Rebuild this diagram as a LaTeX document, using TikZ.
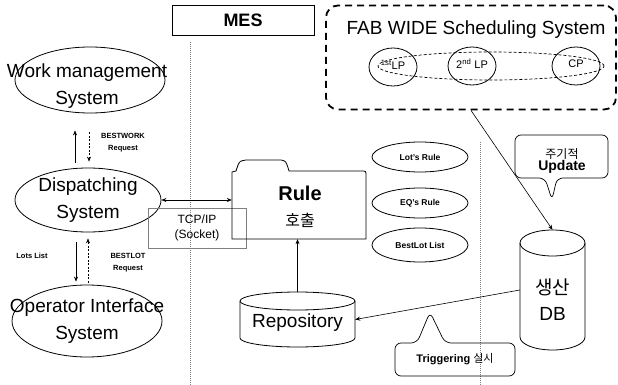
\documentclass[tikz,border=0pt]{standalone}
\usepackage{fontspec}
\setmainfont{Liberation Sans}
\newfontfamily\kr{Noto Sans CJK KR}
\usetikzlibrary{shapes.geometric,arrows.meta,calc}
\begin{document}
\begin{tikzpicture}[x=1pt,y=-1pt,
  ell/.style={draw, ellipse, inner sep=0pt, line width=0.8pt, align=center},
  big/.style={font=\fontsize{19}{27}\selectfont, align=center, inner sep=0pt},
  arr/.style={-{Stealth[length=5pt,width=4pt]}, line width=0.6pt},
  darr/.style={arr, dash pattern=on 2pt off 1.5pt},
  lbl/.style={font=\bfseries\fontsize{7.5}{12}\selectfont, align=center},
  rl/.style={ell, minimum width=96, minimum height=30, font=\bfseries\fontsize{8.5}{10}\selectfont},
  lp/.style={ell, minimum width=48, minimum height=38},
  lpt/.style={font=\fontsize{11}{13}\selectfont, inner sep=0pt},
  sepline/.style={gray, dash pattern=on 1pt off 1pt, line width=0.7pt},
  body/.style={line width=0.8pt}
]
\useasboundingbox (0,0) rectangle (618,385);

% separators
\draw[sepline] (190,42) -- (190,385);
\draw[sepline] (480,142) -- (480,385);

% MES
\node[draw, line width=0.7pt, minimum width=142, minimum height=30, font=\bfseries\fontsize{18}{20}\selectfont] (mes) at (243,20) {MES};

% left ellipses
\node[ell, minimum width=150, minimum height=66] (work) at (90,80) {};
\node[big] (workt) at (87,86) {Work management\\System};
\node[ell, minimum width=146, minimum height=64] (disp) at (88,200) {};
\node[big] (dispt) at (88,200) {Dispatching\\System};
\node[ell, minimum width=150, minimum height=72] (oper) at (87,321) {};
\node[big] (opert) at (87,321) {Operator Interface\\System};

% arrows between left ellipses
\draw[arr] ([xshift=-13pt,yshift=5pt]disp.north) -- ([xshift=-15pt,yshift=-17pt]work.south);
\draw[darr] ([xshift=-1pt,yshift=-19pt]work.south) -- ([xshift=1pt,yshift=6pt]disp.north);
\node[lbl] (bw) at (123,143) {BESTWORK\\Request};

\draw[arr] ([xshift=-12pt,yshift=-10pt]disp.south) -- ([xshift=-11pt,yshift=3pt]oper.north);
\draw[darr] ([xshift=1pt,yshift=2pt]oper.north) -- ([yshift=-6pt]disp.south);
\node[lbl] (ll) at (32,256) {Lots List};
\node[lbl] (bl) at (128,263) {BESTLOT\\Request};

% TCP/IP box
\node[draw=gray, line width=0.5pt, minimum width=98, minimum height=40, align=center,
      font=\fontsize{12}{15}\selectfont] (tcp) at (197,228) {TCP/IP\\(Socket)};

% Rule folder
\draw[body] (232,239) -- (232,172) -- (236,171) -- (238,165) .. controls (240,161) .. (246,160)
  -- (281,160) .. controls (286,161) .. (289,171) -- (361,171) .. controls (366,171) .. (366,176)
  -- (366,239) -- cycle;
\node[minimum width=134, minimum height=67, inner sep=0pt] (rule) at (299,205.5) {};
\node[font=\bfseries\fontsize{20}{24}\selectfont, inner sep=0pt] (rulet) at (300,193) {Rule};
\node[font=\kr\fontsize{16}{18}\selectfont, inner sep=0pt] (callt) at (300,220) {호출};

\draw[{Stealth[length=5pt,width=4pt]}-{Stealth[length=5pt,width=4pt]}, line width=0.6pt]
  (disp.east) -- (disp.east -| rule.west);

% Repository cylinder
\draw[body] (240,301) -- (240,338) arc[start angle=180, end angle=360, x radius=57.5pt, y radius=9pt] -- (355,301);
\draw[body] (297.5,301) ellipse [x radius=57.5pt, y radius=9pt];
\node[minimum width=115, minimum height=55, inner sep=0pt] (repo) at (297.5,319.5) {};
\node[font=\fontsize{19}{22}\selectfont, inner sep=0pt] (repot) at (297.5,323) {Repository};
\draw[arr] (repo.north) -- (repo.north |- rule.south);

% rule ellipses
\node[rl] (lots) at (420,157) {Lot's Rule};
\node[rl] (eqs) at (420,203) {EQ's Rule};
\node[rl, minimum height=34] (best) at (420,245) {BestLot List};

% FAB WIDE box
\node[draw, line width=1.8pt, dash pattern=on 7pt off 5pt, rounded corners=12pt,
      minimum width=290, minimum height=104] (fab) at (471,57.5) {};
\node[font=\fontsize{19}{22}\selectfont] (fabt) at (476,30) {FAB WIDE Scheduling System};
\node[draw, ellipse, dash pattern=on 3pt off 2pt, line width=0.7pt, minimum width=226, minimum height=28] (ring) at (491,66) {};
\node[lp] (lp1) at (393,67) {};
\node[lpt] (lp1t) at (393,65) {\textsuperscript{1st}LP};
\node[lp] (lp2) at (472,66) {};
\node[lpt] (lp2t) at (472,64) {2\textsuperscript{nd} LP};
\node[lp] (cp) at (576,66) {};
\node[lpt] (cpt) at (576,64) {CP};

% production DB cylinder
\draw[body] (520,243) -- (520,337) arc[start angle=180, end angle=360, x radius=32.5pt, y radius=13pt] -- (585,243);
\draw[body] (552.5,243) ellipse [x radius=32.5pt, y radius=13pt];
\node[minimum width=65, minimum height=120, inner sep=0pt] (db) at (552.5,290) {};
\node[font=\fontsize{19}{26}\selectfont, align=center] (dbt) at (552.5,300) {{\kr 생산}\\DB};

\draw[arr] (fab.south) -- (db.north);
\draw[arr] (db.west) -- (repo.east);

% callout: periodic update
\draw[line width=0.7pt, rounded corners=6pt] (552,200) -- (557,178) -- (608,178) -- (608,135) -- (515,135) -- (515,178) -- (545,178) -- cycle;
\node[align=center] (upd) at (562,161) {{\kr\fontsize{12}{16}\selectfont 주기적}\\{\bfseries\fontsize{14}{16}\selectfont Update}};

% callout: triggering
\draw[line width=0.7pt, rounded corners=6pt] (430,312) -- (445,343) -- (515,343) -- (515,376) -- (395,376) -- (395,343) -- (417,343) -- cycle;
\node[font=\fontsize{11}{13}\selectfont] (trig) at (455,359) {\textbf{Triggering} {\kr 실시}};

\end{tikzpicture}
\end{document}
